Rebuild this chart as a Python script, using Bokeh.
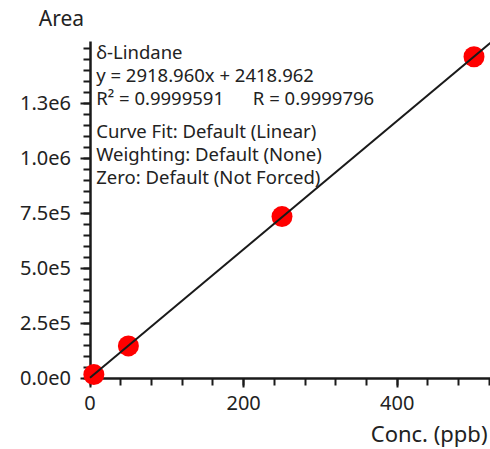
from bokeh.plotting import figure
from bokeh.models import Range1d, LinearAxis, FixedTicker, Label
from bokeh.embed import file_html
from bokeh.resources import INLINE

# ---- data ----
conc = [5, 50, 250, 500]
area = [16500, 146800, 734500, 1461200]
slope = 2918.960
intercept = 2418.962

x_major = [0, 200, 400]
x_labels = ["0", "200", "400"]
x_minor = list(range(0, 521, 40))
y_major = [0, 250000, 500000, 750000, 1000000, 1250000]
y_labels = ["0.0e0", "2.5e5", "5.0e5", "7.5e5", "1.0e6", "1.3e6"]
y_minor = list(range(0, 1500001, 50000))

GAP = "\u00a0" * 6
ann_lines = ["δ-Lindane",
             "y = 2918.960x + 2418.962",
             "R² = 0.9999591" + GAP + "R = 0.9999796",
             "Curve Fit: Default (Linear)",
             "Weighting: Default (None)",
             "Zero: Default (Not Forced)"]

W, H = 490, 449
PX_X = 0.768      # pixels per ppb
PX_Y = 2.2e-4     # pixels per area unit
X0, Y0 = 89.5, 377.7   # pixel position of the origin
X_MAX = (W - X0) / PX_X
Y_MAX = 1530000
SHIFT = 8

FONT = "Noto Sans"
TC = "#222222"

p = figure(width=W, height=H, output_backend="svg", toolbar_location=None,
           x_range=Range1d(-X0 / PX_X, X_MAX),
           y_range=Range1d(-(H - Y0) / PX_Y, Y0 / PX_Y),
           x_axis_location=None, y_axis_location=None,
           min_border_left=0, min_border_right=0, min_border_top=0, min_border_bottom=0)
p.grid.visible = False
p.outline_line_color = None
p.background_fill_color = "white"
p.border_fill_color = "white"

def style_axis(ax, maj_out, min_out, standoff):
    ax.axis_line_width = 2.5
    ax.axis_line_color = "#1a1a1a"
    ax.major_tick_line_width = 2
    ax.minor_tick_line_width = 2
    ax.major_tick_line_color = "#1a1a1a"
    ax.minor_tick_line_color = "#1a1a1a"
    ax.major_tick_in = 0
    ax.minor_tick_in = 0
    ax.major_tick_out = maj_out
    ax.minor_tick_out = min_out
    ax.major_label_text_font = FONT
    ax.major_label_text_font_size = "20px"
    ax.major_label_text_color = TC
    ax.major_label_standoff = standoff

xa = LinearAxis(fixed_location=0, bounds=(0, X_MAX),
                ticker=FixedTicker(ticks=x_major, minor_ticks=x_minor),
                major_label_overrides={t: l for t, l in zip(x_major, x_labels)})
style_axis(xa, 9, 7, 9)
p.add_layout(xa, "below")

ya = LinearAxis(fixed_location=0, bounds=(0, Y_MAX),
                ticker=FixedTicker(ticks=y_major, minor_ticks=y_minor),
                major_label_overrides={t: l for t, l in zip(y_major, y_labels)})
style_axis(ya, 10, 7, 9)
p.add_layout(ya, "left")

p.scatter(conc, area, size=21, color="#ff0000", line_color=None, level="annotation")
fit_x = [0, X_MAX]
fit_y = [slope * v + intercept for v in fit_x]
p.line(fit_x, fit_y, line_color="#1a1a1a", line_width=2, level="overlay")

p.add_layout(Label(x=38.3, y=H - 25 + SHIFT, x_units="screen", y_units="screen", text="Area",
                   text_font=FONT, text_font_size="21px", text_color=TC,
                   text_baseline="alphabetic", text_align="left"))
p.add_layout(Label(x=487, y=H - 440.7 + SHIFT, x_units="screen", y_units="screen", text="Conc. (ppb)",
                   text_font=FONT, text_font_size="22px", text_color=TC,
                   text_baseline="alphabetic", text_align="right"))

ann_base = [58.5, 81.5, 104.5, 138, 161, 184]
for t, yy in zip(ann_lines, ann_base):
    p.add_layout(Label(x=95.7, y=H - yy + SHIFT, x_units="screen", y_units="screen", text=t,
                       text_font=FONT, text_font_size="18.5px", text_color=TC,
                       text_baseline="alphabetic", text_align="left"))

open("out.html", "w").write(file_html(p, INLINE))
